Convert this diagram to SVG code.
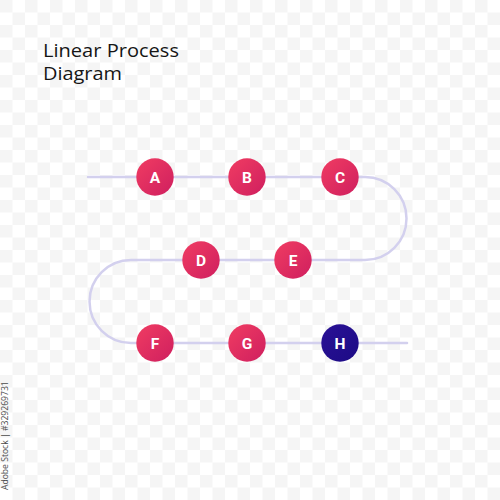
<svg xmlns="http://www.w3.org/2000/svg" width="500" height="500" viewBox="0 0 500 500">
  <style>
    .title { font-family: "Open Sans", "Liberation Sans", sans-serif; font-size: 18px; fill: #151515; }
    .lbl { font-family: "Roboto", "Liberation Sans", sans-serif; font-size: 15.5px; font-weight: 700; fill: #ffffff; text-anchor: middle; }
    .wire { fill: none; stroke: #d3d0ee; stroke-width: 2.5; stroke-linecap: round; }
    .red { fill: url(#gRed); }
    .blue { fill: url(#gBlue); }
    .wm { font-family: "Open Sans", "Liberation Sans", sans-serif; font-size: 8.6px; fill: #4a4a4a; }
  </style>
  <defs>
    <pattern id="checker" width="25" height="25" patternUnits="userSpaceOnUse">
      <rect width="25" height="25" fill="#ffffff"/>
      <rect width="12.5" height="12.5" fill="#f5f5f5"/>
      <rect x="12.5" y="12.5" width="12.5" height="12.5" fill="#f5f5f5"/>
    </pattern>
    <linearGradient id="gRed" x1="0" y1="0" x2="1" y2="1">
      <stop offset="0" stop-color="#f03c62"/>
      <stop offset="1" stop-color="#cf1f5f"/>
    </linearGradient>
    <linearGradient id="gBlue" x1="0" y1="0" x2="1" y2="1">
      <stop offset="0" stop-color="#2a1296"/>
      <stop offset="1" stop-color="#1c0a85"/>
    </linearGradient>
  </defs>

  <rect width="500" height="500" fill="url(#checker)"/>

  <g id="title">
    <text class="title" x="43" y="57" textLength="136" lengthAdjust="spacingAndGlyphs">Linear Process</text>
    <text class="title" x="43" y="80" textLength="79" lengthAdjust="spacingAndGlyphs">Diagram</text>
  </g>

  <g id="connectors">
    <path class="wire" d="M88 177 H365 A41.5 41.5 0 0 1 365 260 H131 A41.5 41.5 0 0 0 131 343 H407"/>
  </g>

  <g id="node-A"><circle class="red" cx="155" cy="177" r="18.7"/><text class="lbl" x="155" y="182.5">A</text></g>
  <g id="node-B"><circle class="red" cx="247" cy="177" r="18.7"/><text class="lbl" x="247" y="182.5">B</text></g>
  <g id="node-C"><circle class="red" cx="340" cy="177" r="18.7"/><text class="lbl" x="340" y="182.5">C</text></g>
  <g id="node-D"><circle class="red" cx="201" cy="260" r="18.7"/><text class="lbl" x="201" y="265.5">D</text></g>
  <g id="node-E"><circle class="red" cx="293" cy="260" r="18.7"/><text class="lbl" x="293" y="265.5">E</text></g>
  <g id="node-F"><circle class="red" cx="155" cy="343" r="18.7"/><text class="lbl" x="155" y="348.5">F</text></g>
  <g id="node-G"><circle class="red" cx="247" cy="343" r="18.7"/><text class="lbl" x="247" y="348.5">G</text></g>
  <g id="node-H"><circle class="blue" cx="340" cy="343" r="18.7"/><text class="lbl" x="340" y="348.5">H</text></g>

  <text class="wm" transform="translate(7.5 490) rotate(-90)">Adobe Stock | #329269731</text>
</svg>
